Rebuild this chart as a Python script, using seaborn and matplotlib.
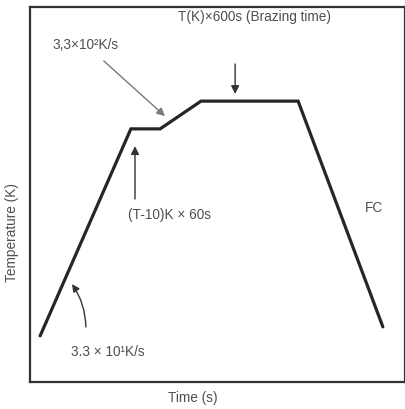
import matplotlib
matplotlib.use("Agg")
import matplotlib.pyplot as plt
import pandas as pd
import seaborn as sns

# brazing heat profile (arbitrary units)
time = [2.7, 26.9, 34.7, 45.6, 71.5, 94.1]
temperature = [12.3, 67.5, 67.5, 74.9, 74.9, 14.7]

notes = ["3,3×10²K/s", "T(K)×600s (Brazing time)", "(T-10)K × 60s", "3.3 × 10¹K/s", "FC"]

df = pd.DataFrame({"time": time, "temperature": temperature})

sns.set_style("white")
plt.rcParams["font.family"] = ["Liberation Sans", "DejaVu Sans"]

fig = plt.figure(figsize=(4.06, 4.10), dpi=100)
ax = fig.add_axes([30 / 406, 27 / 410, 375 / 406, 375 / 410])

sns.lineplot(ax=ax, data=df, x="time", y="temperature", sort=False,
             color="#262626", linewidth=2.3, solid_joinstyle="miter")

ax.set_xlim(0, 100)
ax.set_ylim(0, 100)
ax.set_xticks([])
ax.set_yticks([])
for side in ax.spines.values():
    side.set_color("#333333")
    side.set_linewidth(1.6)

txt = dict(fontsize=9.8, color="#4f4f4f", ha="center", va="center")

ax.annotate(notes[0], xy=(36.0, 70.9), xytext=(14.7, 90.1), **txt,
            arrowprops=dict(arrowstyle="-|>", color="#7a7a7a", lw=1.0,
                            mutation_scale=12, shrinkA=7, shrinkB=0))
ax.annotate(notes[1], xy=(54.7, 76.8), xytext=(60.0, 97.6), **txt)
ax.annotate("", xy=(54.7, 76.8), xytext=(54.7, 84.8),
            arrowprops=dict(arrowstyle="-|>", color="#333333", lw=1.0,
                            mutation_scale=12, shrinkA=0, shrinkB=0))
ax.annotate(notes[2], xy=(37.1, 44.8), xytext=(37.1, 44.8), **txt)
ax.annotate("", xy=(28.0, 62.9), xytext=(28.0, 48.8),
            arrowprops=dict(arrowstyle="-|>", color="#333333", lw=1.0,
                            mutation_scale=12, shrinkA=0, shrinkB=0))
ax.annotate(notes[3], xy=(20.8, 8.3), xytext=(20.8, 8.3), **txt)
ax.annotate("", xy=(11.2, 26.1), xytext=(14.9, 14.7),
            arrowprops=dict(arrowstyle="-|>", color="#333333", lw=1.0,
                            mutation_scale=11, shrinkA=0, shrinkB=0,
                            connectionstyle="arc3,rad=0.15"))
ax.text(91.7, 46.7, notes[4], **txt)

ax.set_xlabel("Time (s)", fontsize=9.8, color="#4f4f4f")
ax.set_ylabel("Temperature (K)", fontsize=9.8, color="#4f4f4f")
ax.xaxis.set_label_coords(0.435, -0.022)
ax.yaxis.set_label_coords(-0.028, 0.40)

fig.savefig("out.png", dpi=100)
